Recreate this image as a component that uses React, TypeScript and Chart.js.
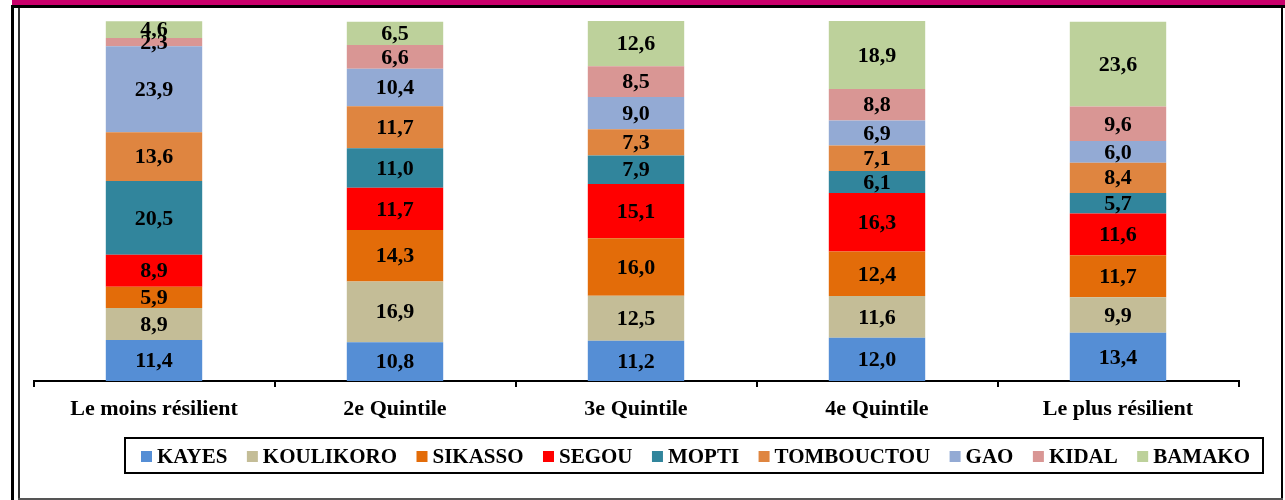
import React, { useEffect, useRef } from "react";
import { Chart, registerables } from "chart.js";

Chart.register(...registerables);

const categories = ["Le moins résilient", "2e Quintile", "3e Quintile", "4e Quintile", "Le plus résilient"];
const regions = ["KAYES", "KOULIKORO", "SIKASSO", "SEGOU", "MOPTI", "TOMBOUCTOU", "GAO", "KIDAL", "BAMAKO"];

const kayes = [11.4, 10.8, 11.2, 12.0, 13.4];
const koulikoro = [8.9, 16.9, 12.5, 11.6, 9.9];
const sikasso = [5.9, 14.3, 16.0, 12.4, 11.7];
const segou = [8.9, 11.7, 15.1, 16.3, 11.6];
const mopti = [20.5, 11.0, 7.9, 6.1, 5.7];
const tombouctou = [13.6, 11.7, 7.3, 7.1, 8.4];
const gao = [23.9, 10.4, 9.0, 6.9, 6.0];
const kidal = [2.3, 6.6, 8.5, 8.8, 9.6];
const bamako = [4.6, 6.5, 12.6, 18.9, 23.6];

const colors = ["#558ED5", "#C4BD97", "#E36C09", "#FF0000", "#31859C", "#DF8540", "#93AAD4", "#D99694", "#BDD19B"];

const SERIF = "'Liberation Serif', 'Times New Roman', serif";

const framePlugin = {
  id: "frame",
  beforeDraw(chart: any) {
    const ctx = chart.ctx;
    ctx.save();
    ctx.fillStyle = "#fff";
    ctx.fillRect(0, 0, chart.width, chart.height);
    ctx.fillStyle = "#C9006B";
    ctx.fillRect(12, 0, chart.width - 12, 5);
    ctx.fillStyle = "#000";
    ctx.fillRect(12, 5, chart.width - 12, 3);
    ctx.fillRect(11, 5, 3, chart.height - 5);
    ctx.fillRect(1281, 5, 2, chart.height - 5);
    ctx.fillStyle = "#333";
    ctx.fillRect(18, 8, 2, chart.height - 8);
    ctx.fillStyle = "#555";
    ctx.fillRect(18, 498, 1265, 2);
    ctx.restore();
  },
};

const fmt = (v: number) => v.toFixed(1).replace(".", ",");

const labelPlugin = {
  id: "segLabels",
  afterDatasetsDraw(chart: any) {
    const ctx = chart.ctx;
    ctx.save();
    ctx.font = `bold 22px ${SERIF}`;
    ctx.fillStyle = "#000";
    ctx.textAlign = "center";
    ctx.textBaseline = "middle";
    chart.data.datasets.forEach((ds: any, i: number) => {
      const meta = chart.getDatasetMeta(i);
      meta.data.forEach((bar: any, j: number) => {
        const p = bar.getProps(["x", "y", "base"], true);
        ctx.fillText(fmt(ds.data[j]), p.x, (p.y + p.base) / 2 + 1);
      });
    });
    ctx.restore();
  },
};

const legendPlugin = {
  id: "boxLegend",
  afterDraw(chart: any) {
    const ctx = chart.ctx;
    ctx.save();
    ctx.strokeStyle = "#000";
    ctx.lineWidth = 2;
    ctx.strokeRect(125, 438, 1138, 35);
    ctx.font = `bold 21px ${SERIF}`;
    ctx.textBaseline = "middle";
    ctx.textAlign = "left";
    const sq = 11;
    const gapIn = 5;
    const startX = 141;
    const endX = 1250;
    const widths = regions.map((r) => ctx.measureText(r).width);
    const itemsW = widths.reduce((a, w) => a + sq + gapIn + w, 0);
    const gap = (endX - startX - itemsW) / (regions.length - 1);
    let x = startX;
    const cy = 457;
    regions.forEach((r, i) => {
      ctx.fillStyle = colors[i];
      ctx.fillRect(x, cy - 6, sq, sq);
      ctx.fillStyle = "#000";
      ctx.fillText(r, x + sq + gapIn, cy + 1);
      x += sq + gapIn + widths[i] + gap;
    });
    ctx.restore();
  },
};

export default function App() {
  const ref = useRef<HTMLCanvasElement>(null);
  useEffect(() => {
    const series = [kayes, koulikoro, sikasso, segou, mopti, tombouctou, gao, kidal, bamako];
    const chart = new Chart(ref.current as HTMLCanvasElement, {
      type: "bar",
      data: {
        labels: categories,
        datasets: regions.map((r, i) => ({
          label: r,
          data: series[i],
          backgroundColor: colors[i],
          borderWidth: 0,
          categoryPercentage: 1,
          barPercentage: 0.4,
        })),
      },
      options: {
        responsive: false,
        animation: false,
        layout: { padding: { left: 33.5, right: 1285 - 1238.5, top: 21, bottom: 0 } },
        plugins: { legend: { display: false }, tooltip: { enabled: false } },
        scales: {
          x: {
            stacked: true,
            offset: true,
            grid: { display: true, drawOnChartArea: false, drawTicks: true, tickLength: 6, color: "#000", lineWidth: 2, offset: true },
            border: { display: true, color: "#000", width: 2 },
            ticks: {
              color: "#000",
              font: { family: SERIF, size: 22, weight: "bold" },
              padding: 9,
              maxRotation: 0,
              autoSkip: false,
            },
            afterFit: (s: any) => {
              s.height = 119;
            },
          },
          y: { stacked: true, display: false, min: 0, max: 100.1 },
        },
      } as any,
      plugins: [framePlugin, labelPlugin, legendPlugin],
    });
    return () => chart.destroy();
  }, []);
  return (
    <div style={{ position: "absolute", left: 0, top: 0, width: 1285, height: 500 }}>
      <canvas ref={ref} width={1285} height={500} style={{ width: 1285, height: 500, display: "block" }} />
    </div>
  );
}
